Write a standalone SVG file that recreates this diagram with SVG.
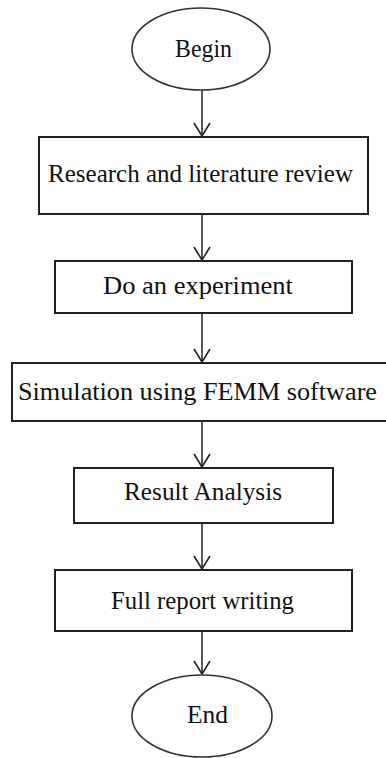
<svg xmlns="http://www.w3.org/2000/svg" width="386" height="758" viewBox="0 0 386 758">
<style>
.shape{fill:#fff;stroke:#222;stroke-width:2}
.ell{fill:#fff;stroke:#333;stroke-width:1.6}
.lbl{font-family:"Liberation Serif","Times New Roman",serif;font-size:25px;fill:#111;text-anchor:middle}
.conn{stroke:#222;stroke-width:1.5;fill:none}
</style>
<defs>
<marker id="arr" markerUnits="userSpaceOnUse" markerWidth="20" markerHeight="20" refX="0" refY="0" orient="auto" overflow="visible">
<path d="M-13,-8 L0,0 L-13,8" fill="none" stroke="#222" stroke-width="1.6"/>
</marker>
</defs>
<rect width="386" height="758" fill="#fff"/>
<g id="connectors">
<line class="conn" x1="202" y1="90" x2="202" y2="136" marker-end="url(#arr)"/>
<line class="conn" x1="202" y1="214" x2="202" y2="260" marker-end="url(#arr)"/>
<line class="conn" x1="202" y1="313" x2="202" y2="362" marker-end="url(#arr)"/>
<line class="conn" x1="202" y1="421" x2="202" y2="467" marker-end="url(#arr)"/>
<line class="conn" x1="202" y1="523" x2="202" y2="569" marker-end="url(#arr)"/>
<line class="conn" x1="202" y1="631" x2="202" y2="674" marker-end="url(#arr)"/>
</g>
<g id="begin">
<ellipse class="ell" cx="201" cy="49" rx="69" ry="41"/>
<text class="lbl" x="203.5" y="57" textLength="57" lengthAdjust="spacingAndGlyphs">Begin</text>
</g>
<g id="research">
<rect class="shape" x="39" y="137" width="329" height="77"/>
<text class="lbl" x="200.5" y="182" textLength="305" lengthAdjust="spacingAndGlyphs">Research and literature review</text>
</g>
<g id="experiment">
<rect class="shape" x="55" y="261" width="297" height="52"/>
<text class="lbl" x="198" y="294" textLength="190" lengthAdjust="spacingAndGlyphs">Do an experiment</text>
</g>
<g id="simulation">
<rect class="shape" x="12" y="363" width="380" height="58"/>
<text class="lbl" x="197.5" y="400" textLength="359" lengthAdjust="spacingAndGlyphs">Simulation using FEMM software</text>
</g>
<g id="analysis">
<rect class="shape" x="74" y="468" width="259" height="55"/>
<text class="lbl" x="203" y="500" textLength="158" lengthAdjust="spacingAndGlyphs">Result Analysis</text>
</g>
<g id="report">
<rect class="shape" x="55" y="570" width="297" height="61"/>
<text class="lbl" x="202.5" y="609" textLength="183" lengthAdjust="spacingAndGlyphs">Full report writing</text>
</g>
<g id="end">
<ellipse class="ell" cx="202" cy="716" rx="70" ry="41"/>
<text class="lbl" x="207.5" y="723" textLength="41" lengthAdjust="spacingAndGlyphs">End</text>
</g>
</svg>
